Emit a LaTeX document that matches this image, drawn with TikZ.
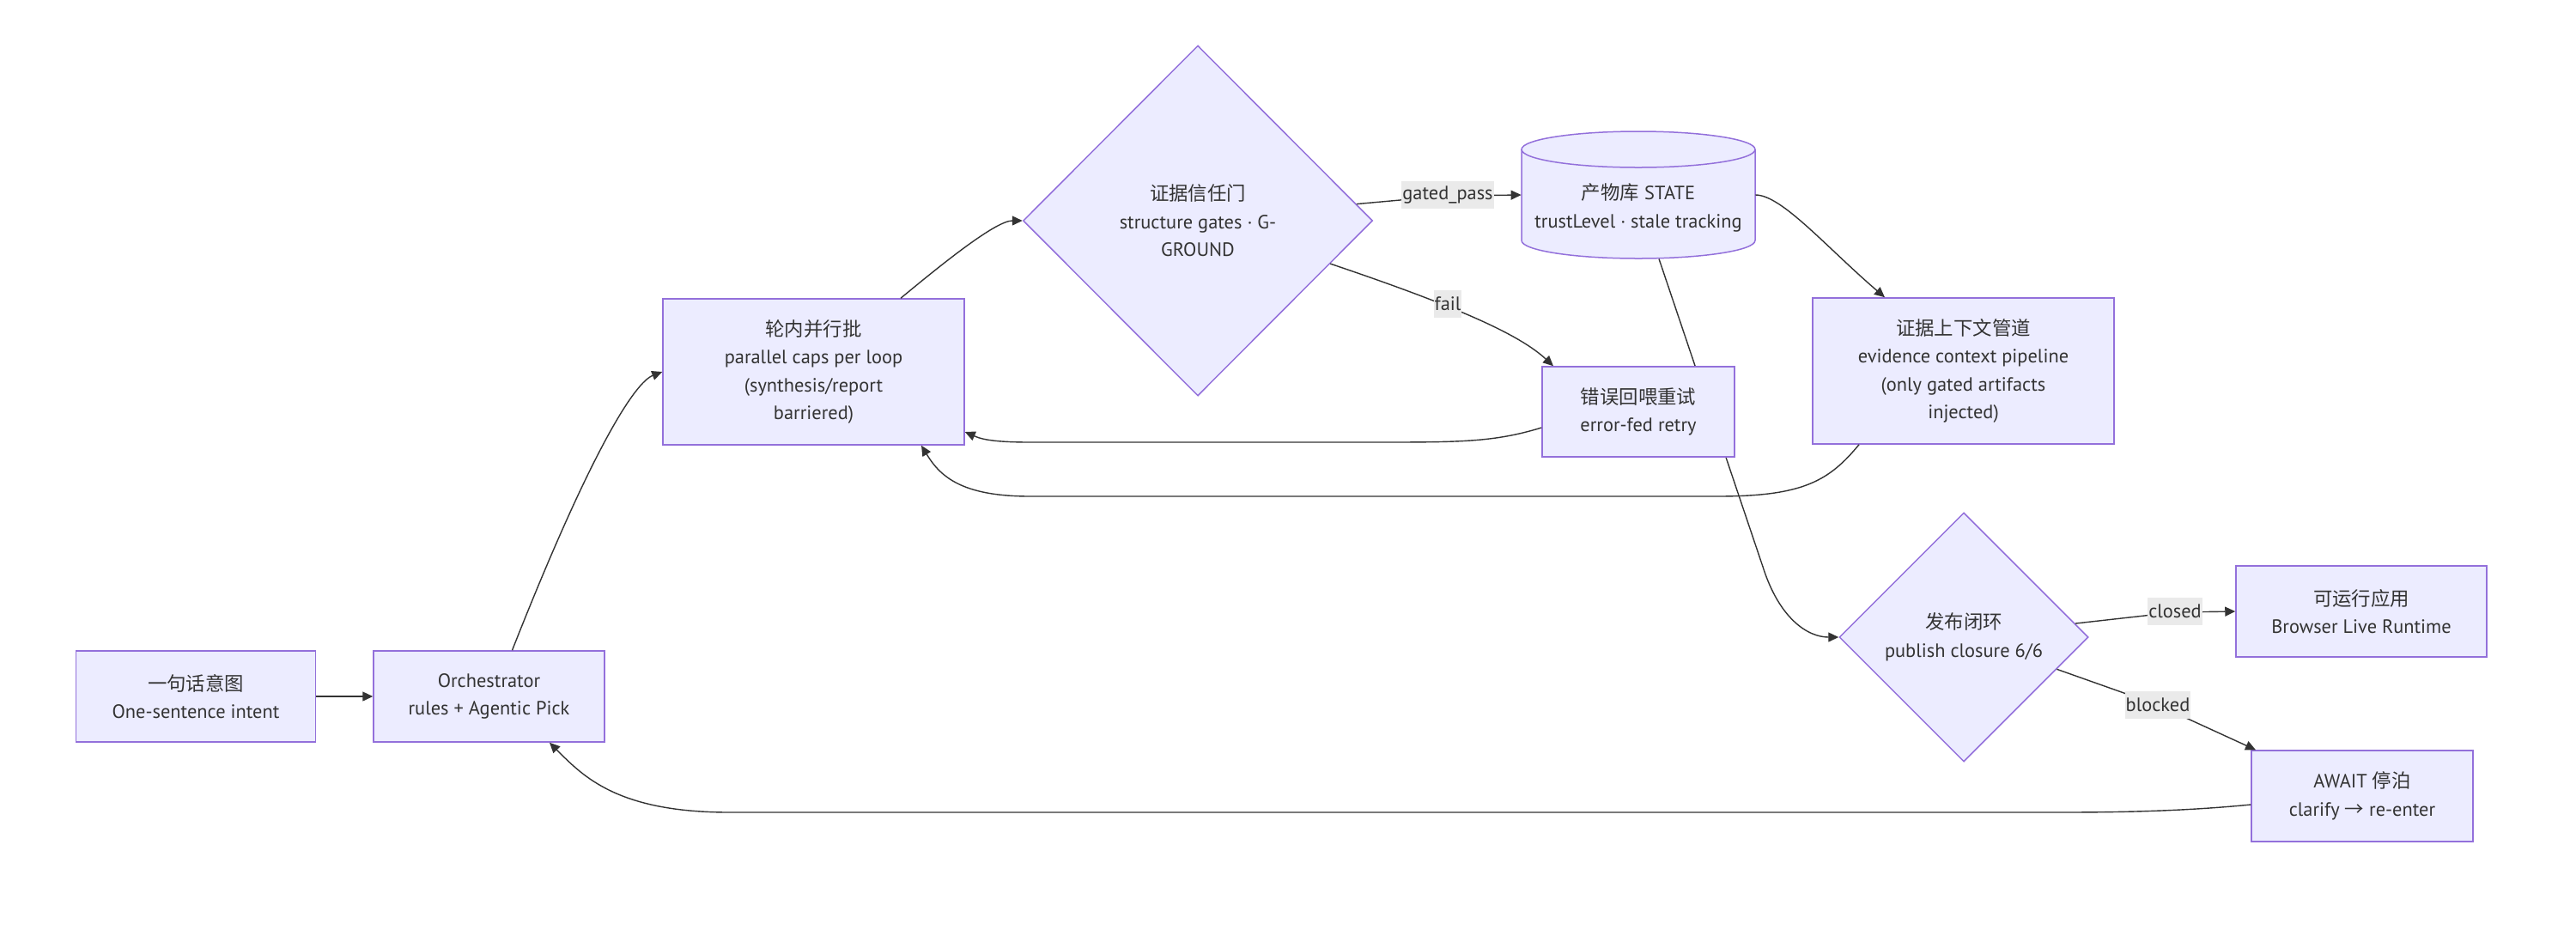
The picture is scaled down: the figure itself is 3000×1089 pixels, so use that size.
\documentclass[tikz,border=0pt]{standalone}
\usepackage{fontspec}
\setmainfont{PT Sans}
\newfontfamily\cjk{Noto Sans CJK SC}
\usetikzlibrary{shapes.geometric,arrows.meta,backgrounds,calc}
\definecolor{nodefill}{HTML}{ECECFF}
\definecolor{nodeline}{HTML}{9370DB}
\definecolor{edgecol}{HTML}{333333}
\definecolor{labelbg}{HTML}{EAEAEA}
\definecolor{txt}{HTML}{333333}
\begin{document}
\begin{tikzpicture}[x=0.5pt,y=-0.5pt,
 every node/.style={font=\fontsize{11.2pt}{16.25pt}\selectfont, text=txt},
 box/.style 2 args={draw=nodeline, fill=nodefill, line width=0.75pt, minimum width=#1*0.5pt, minimum height=#2*0.5pt, inner sep=0pt, align=center},
 dia/.style 2 args={diamond, draw=nodeline, fill=nodefill, line width=0.75pt, minimum width=#1*0.5pt, minimum height=#2*0.5pt, inner sep=0pt, align=center},
 edge/.style={draw=edgecol, line width=0.7pt, -{Triangle[length=6pt,width=5.5pt]}},
 elabel/.style={fill=labelbg, inner xsep=0.5pt, inner ysep=0pt, minimum height=16pt}
]
\useasboundingbox (0,0) rectangle (3000,1089);

% nodes
\node[box={279}{106}] (A) at (228,811) {{\cjk 一句话意图}\\One-sentence intent};
\node[box={269}{106}] (B) at (569.5,811) {Orchestrator\\rules + Agentic Pick};
\node[box={351}{170}] (C) at (947.5,433) {{\cjk 轮内并行批}\\parallel caps per loop\\(synthesis/report\\barriered)};
\node[dia={407}{408}] (D) at (1395,257) {{\cjk 证据信任门}\\structure gates · G-\\GROUND};

% cylinder STATE
\path[draw=nodeline, fill=nodefill, line width=0.75pt] (1772,174) -- (1772,280)
  arc[start angle=180, end angle=360, x radius=68pt, y radius=10.5pt] -- (2044,174)
  arc[start angle=0, end angle=180, x radius=68pt, y radius=10.5pt] -- cycle;
\draw[nodeline, line width=0.75pt] (1772,174) arc[start angle=180, end angle=360, x radius=68pt, y radius=10.5pt];
\node[inner sep=0pt, minimum width=136pt, minimum height=74pt] (E) at (1908,227) {};
\node[align=center] (Et) at (1908,242) {{\cjk 产物库} STATE\\trustLevel · stale tracking};

\node[box={224}{105}] (F) at (1908,479.5) {{\cjk 错误回喂重试}\\error-fed retry};
\node[box={351}{170}] (G) at (2286.5,432) {{\cjk 证据上下文管道}\\evidence context pipeline\\(only gated artifacts\\injected)};
\node[dia={290}{290}] (H) at (2287,742) {{\cjk 发布闭环}\\publish closure 6/6};
\node[box={292}{106}] (I) at (2750,712) {{\cjk 可运行应用}\\Browser Live Runtime};
\node[box={258}{106}] (J) at (2751,927) {AWAIT {\cjk 停泊}\\clarify {\cjk →} re-enter};

% edges
\draw[edge] (A) -- (B);
\draw[edge] ([xshift=13.5pt]B.north) .. controls (690,520) and (740,445) .. (C.west);
\draw[edge] ([xshift=50.75pt]C.north) .. controls (1100,305) and (1160,257) .. (D.west);
\draw[edge] (D.6) -- (1686,228) -- (E.west);
\draw[edge] (D.-18) .. controls (1700,358) and (1770,390) .. ([xshift=-49.5pt]F.north);
\draw[edge] (E.east) .. controls (2075,227) and (2127,288) .. ([xshift=-45.75pt]G.north);
\begin{pgfonlayer}{background}
\draw[edge] ([xshift=12pt]E.south) -- (2053,660) .. controls (2072,720) and (2105,742) .. (H.west);
\end{pgfonlayer}
\draw[edge] ([yshift=-9.25pt]F.west) .. controls (1740,515) and (1700,515) .. (1600,515) -- (1200,515) .. controls (1150,515) and (1140,510) .. ([yshift=-35pt]C.east);
\draw[edge] ([xshift=-60.75pt]G.south) .. controls (2130,560) and (2100,578) .. (2000,578) -- (1200,578) .. controls (1120,578) and (1095,555) .. ([xshift=62.75pt]C.south);
\draw[edge] (H.7) -- (2533,713) -- (I.west);
\draw[edge] (H.-19) -- (2513,821) -- ([xshift=-62pt]J.north);
\draw[edge] ([yshift=-5pt]J.west) .. controls (2550,944) and (2480,946) .. (2400,946) -- (850,946) .. controls (720,946) and (680,905) .. ([xshift=35.25pt]B.south);

% edge labels
\node[elabel] (l1) at (1686,227) {gated\_pass};
\node[elabel] (l2) at (1686,354) {fail};
\node[elabel] (l3) at (2533,712) {closed};
\node[elabel] (l4) at (2513,821) {blocked};
\end{tikzpicture}
\end{document}
